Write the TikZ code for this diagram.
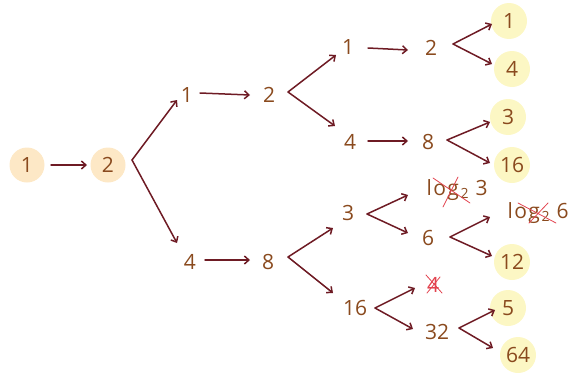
\documentclass[tikz,border=0pt]{standalone}
\usepackage{fontspec}
\setmainfont{Open Sans}
\usetikzlibrary{arrows.meta,calc}
\definecolor{ink}{HTML}{8A4A1E}
\definecolor{wire}{HTML}{6E1B24}
\definecolor{peach}{HTML}{FDE8C6}
\definecolor{lemon}{HTML}{FCF7C4}
\definecolor{strike}{HTML}{E2434F}
\tikzset{
  num/.style={text=ink,font=\fontsize{21}{23}\selectfont,inner sep=1pt},
  rootdot/.style={num,circle,fill=peach,minimum size=35pt},
  leaf/.style={num,circle,fill=lemon,minimum size=36pt},
  crossed/.style={num,text=strike},
  arr/.style={draw=wire,line width=1.5pt,line cap=round,line join=round,-{Straight Barb[length=4.5pt,width=8pt]}},
  xout/.style={draw=strike,line width=0.8pt,line cap=round}
}
\newcommand{\logtwo}[1]{l\kern1.5pt o\kern1.5pt g\kern1.5pt\raisebox{-0.3ex}{\fontsize{14}{14}\selectfont 2}\kern7pt #1}
\begin{document}
\begin{tikzpicture}[x=1pt,y=-1pt]
\useasboundingbox (0,0) rectangle (577,372);
% root and first level
\node[rootdot] (a1) at (27,165) {1};
\node[rootdot] (a2) at (108,165) {2};
\node[num] (b1) at (187,95) {1};
\node[num] (b2) at (269,95) {2};
\node[num] (b4) at (190,262) {4};
\node[num] (b8) at (268,262) {8};
% second level
\node[num] (c1) at (348,47) {1};
\node[num] (c2) at (431,48) {2};
\node[num] (c4) at (350,142) {4};
\node[num] (c8) at (428,142) {8};
\node[num] (c3) at (348,213) {3};
\node[num] (c6) at (428,238) {6};
\node[num] (c16) at (355,308) {16};
\node[num] (c32) at (437,332) {32};
\node[crossed] (cx4) at (433,285) {4};
\node[num] (l3) at (457,190) {\logtwo{3}};
\node[num] (l6) at (538,213) {\logtwo{6}};
% leaves
\node[leaf] (d1) at (509,21) {1};
\node[leaf] (d4) at (512,69) {4};
\node[leaf] (d3) at (508,117) {3};
\node[leaf] (d16) at (512,165) {16};
\node[leaf] (d12) at (512,262) {12};
\node[leaf] (d5) at (508,308) {5};
\node[leaf] (d64) at (518,355) {64};
% straight arrows
\draw[arr] ($(a1)+(24,0)$) -- ($(a2)+(-21,0)$);
\draw[arr] ($(b1)+(13,-2)$) -- ($(b2)+(-19,0)$);
\draw[arr] ($(b4)+(15,-2)$) -- ($(b8)+(-18,-2)$);
\draw[arr] ($(c1)+(20,1)$) -- ($(c2)+(-23,2)$);
\draw[arr] ($(c4)+(18,-1)$) -- ($(c8)+(-20,-1)$);
% branching arrows
\coordinate (va2) at ($(a2)+(24,-5)$);
\draw[arr] (va2) -- ($(b1)+(-10,5)$);
\draw[arr] (va2) -- ($(b4)+(-13,-19)$);
\coordinate (vb2) at ($(b2)+(19,-3)$);
\draw[arr] (vb2) -- ($(c1)+(-12,8)$);
\draw[arr] (vb2) -- ($(c4)+(-15,-16)$);
\coordinate (vc2) at ($(c2)+(22,-4)$);
\draw[arr] (vc2) -- ($(d1)+(-17,3)$);
\draw[arr] (vc2) -- ($(d4)+(-20,-5)$);
\coordinate (vc8) at ($(c8)+(19,-2)$);
\draw[arr] (vc8) -- ($(d3)+(-18,5)$);
\draw[arr] (vc8) -- ($(d16)+(-22,-2)$);
\coordinate (vb8) at ($(b8)+(20,-5)$);
\draw[arr] (vb8) -- ($(c3)+(-15,15)$);
\draw[arr] (vb8) -- ($(c16)+(-22,-15)$);
\coordinate (vc3) at ($(c3)+(19,1)$);
\draw[arr] (vc3) -- ($(l3)+(-49,5)$);
\draw[arr] (vc3) -- ($(c6)+(-20,-5)$);
\coordinate (vc6) at ($(c6)+(22,-1)$);
\draw[arr] (vc6) -- ($(l6)+(-48,4)$);
\draw[arr] (vc6) -- ($(d12)+(-20,-6)$);
\coordinate (vc16) at ($(c16)+(20,0)$);
\draw[arr] (vc16) -- ($(cx4)+(-18,3)$);
\draw[arr] (vc16) -- ($(c32)+(-24,-3)$);
\coordinate (vc32) at ($(c32)+(22,-4)$);
\draw[arr] (vc32) -- ($(d5)+(-13,2)$);
\draw[arr] (vc32) -- ($(d64)+(-25,-7)$);
% strike-outs
\draw[xout] ($(cx4)+(-7,-10)$) -- ($(cx4)+(9,8)$);
\draw[xout] ($(cx4)+(7,-8)$) -- ($(cx4)+(-6,8)$);
\draw[xout] ($(l3)+(-24,-12)$) -- ($(l3)+(13,13)$);
\draw[xout] ($(l3)+(1,-13)$) -- ($(l3)+(-14,17)$);
\draw[xout] ($(l6)+(-20,-10)$) -- ($(l6)+(18,10)$);
\draw[xout] ($(l6)+(10,-10)$) -- ($(l6)+(-9,10)$);
\end{tikzpicture}
\end{document}
